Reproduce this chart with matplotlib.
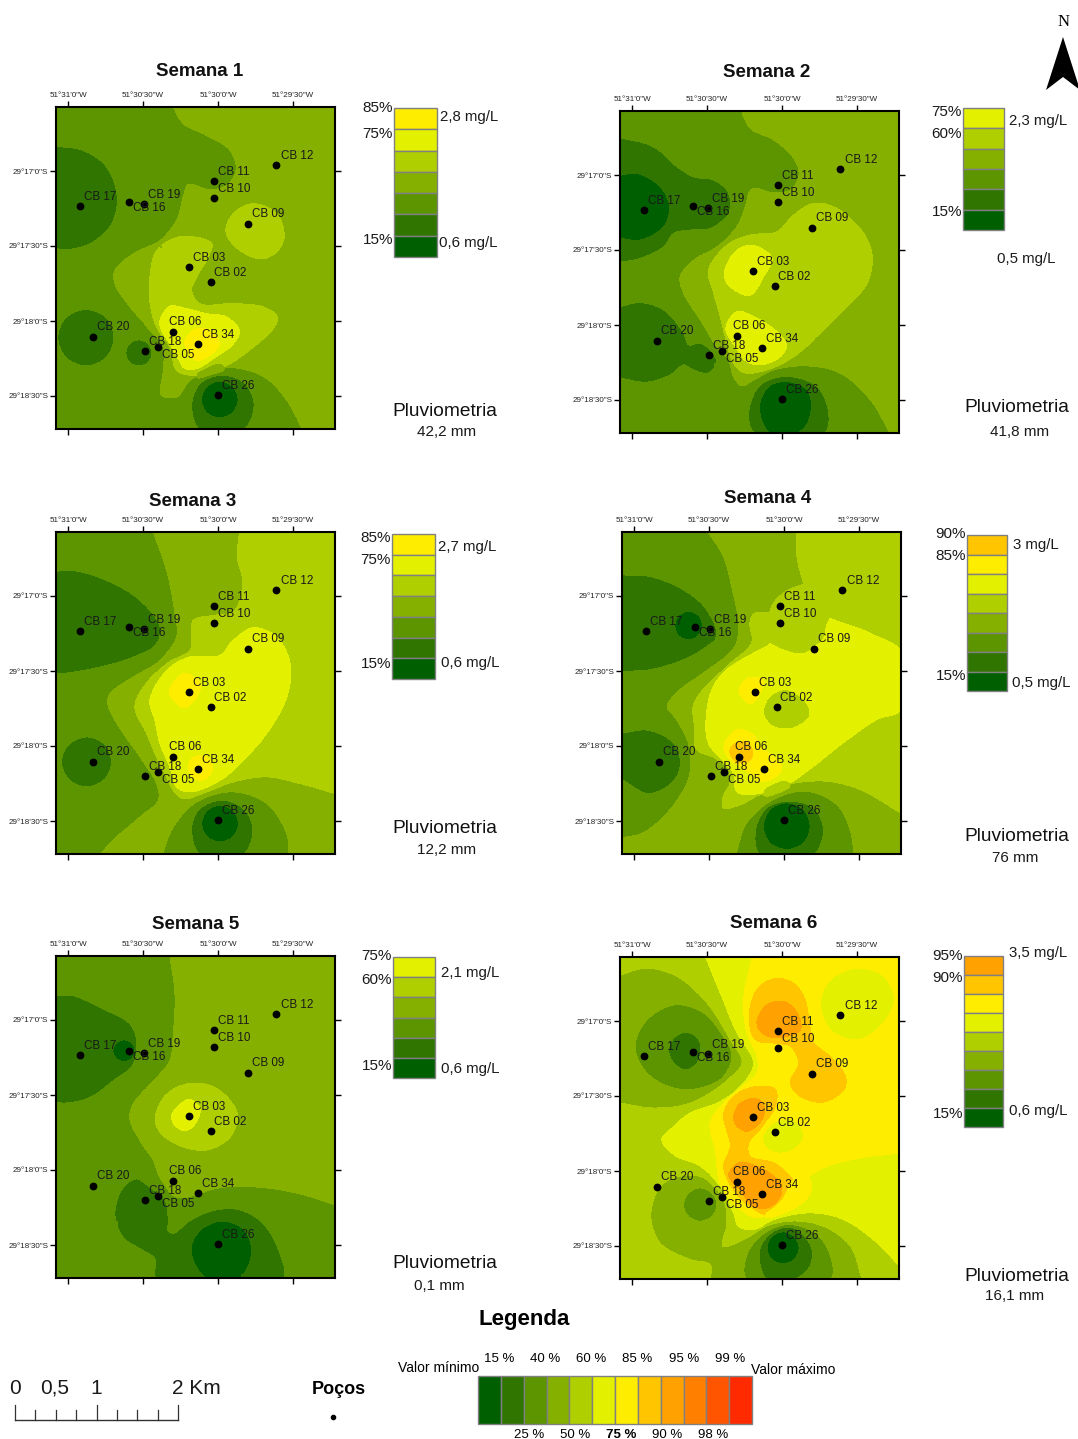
#!/usr/bin/env python3

import matplotlib
matplotlib.use("Agg")
import matplotlib.pyplot as plt
import numpy as np
from matplotlib.patches import Polygon, Rectangle

plt.rcParams["font.family"] = ["Liberation Sans", "DejaVu Sans"]

WIDTH = 1078
HEIGHT = 1439

CLASS_COLORS = [
    "#005f00", "#2f7500", "#5c9500", "#85b000", "#b0cf00", "#e3f000",
    "#ffed00", "#ffc600", "#ffa100", "#ff8000", "#ff5500", "#ff2a00",
]

WELL_NAMES = ["CB 17", "CB 16", "CB 19", "CB 12", "CB 11", "CB 10", "CB 09", "CB 03",
              "CB 02", "CB 06", "CB 34", "CB 18", "CB 05", "CB 20", "CB 26"]
# arc seconds east of 51°31'0" and south of 29°17'0"
WELL_EAST = [4.8, 24.5, 30.4, 83.3, 58.5, 58.5, 72.0, 48.4, 57.1, 42.1, 52.1, 30.9, 35.9, 10.1, 59.9]
WELL_SOUTH = [13.9, 12.4, 13.2, -2.3, 4.1, 10.8, 21.2, 38.5, 44.4, 64.3, 69.3, 72.1, 70.5, 66.3, 89.6]

X_TICKS = [0, 30, 60, 90]
Y_TICKS = [0, 30, 60, 90]
X_TICK_LABELS = ["51°31'0\"W", "51°30'30\"W", "51°30'0\"W", "51°29'30\"W"]
Y_TICK_LABELS = ["29°17'0\"S", "29°17'30\"S", "29°18'0\"S", "29°18'30\"S"]

WEEK_TITLES = ["Semana 1", "Semana 2", "Semana 3", "Semana 4", "Semana 5", "Semana 6"]
RAINFALL = ["42,2 mm", "41,8 mm", "12,2 mm", "76 mm", "0,1 mm", "16,1 mm"]
MAX_LABELS = ["2,8 mg/L", "2,3 mg/L", "2,7 mg/L", "3 mg/L", "2,1 mg/L", "3,5 mg/L"]
MIN_LABELS = ["0,6 mg/L", "0,5 mg/L", "0,6 mg/L", "0,5 mg/L", "0,6 mg/L", "0,6 mg/L"]
TOP_CLASS = [6, 5, 6, 7, 5, 8]
PERCENT_LABELS = [
    ["85%", "75%", "15%"], ["75%", "60%", "15%"], ["85%", "75%", "15%"],
    ["90%", "85%", "15%"], ["75%", "60%", "15%"], ["95%", "90%", "15%"],
]

# class boundaries traced from the maps: (class boundary, [(x, y), ...]),
# x and y as read on a 3x enlargement of each panel
WEEK1_LINES = [
    (3, [(520, 170), (550, 220), (620, 255), (690, 300), (708, 360), (680, 405), (630, 418), (565, 403),
         (550, 440), (530, 510), (480, 570), (400, 610), (345, 660), (345, 700), (390, 770), (450, 840),
         (490, 890), (490, 960), (485, 1035), (530, 1040), (570, 990), (640, 955), (720, 955), (800, 985),
         (860, 1050), (908, 1138)]),
    (2, [(170, 287), (250, 300), (320, 350), (352, 440), (335, 520), (270, 580), (200, 598), (170, 595)]),
    (2, [(258, 778), (318, 802), (342, 862), (318, 922), (258, 947), (198, 922), (174, 862), (198, 802)]),
    (2, [(417, 869), (445, 880), (456, 908), (445, 936), (417, 947), (389, 936), (378, 908), (389, 880)]),
    (2, [(668, 975), (735, 1000), (762, 1065), (730, 1138), (600, 1138), (575, 1065), (600, 1000)]),
    (1, [(659, 993), (698, 1009), (714, 1048), (698, 1087), (659, 1103), (620, 1087), (604, 1048), (620, 1009)]),
    (4, [(570, 558), (635, 580), (625, 620), (590, 680), (575, 720), (600, 760), (700, 760), (790, 770),
         (832, 800), (820, 835), (760, 890), (680, 945), (580, 975), (530, 960), (510, 890), (470, 830),
         (452, 770), (450, 680), (470, 600), (520, 565)]),
    (4, [(678, 545), (700, 490), (760, 460), (830, 490), (852, 560), (830, 605), (785, 625), (720, 600)]),
    (5, [(480, 810), (510, 768), (560, 775), (620, 790), (680, 800), (718, 840), (700, 880), (640, 925),
         (590, 955), (555, 955), (535, 925), (510, 880), (485, 840)]),
    (6, [(555, 870), (590, 835), (640, 845), (657, 880), (630, 915), (590, 930), (565, 905)]),
]
WEEK1_PEAKS = [(200, 440, 1.3), (258, 862, 1.5), (417, 908, 1.5), (659, 1048, 0.4), (605, 885, 6.5), (762, 540, 4.5),
               (950, 600, 3.5), (300, 700, 2.5)]

WEEK2_LINES = [
    (3, [(543, 335), (570, 385), (640, 420), (700, 475), (716, 525), (690, 570), (640, 578), (575, 567),
         (555, 620), (530, 680), (470, 740), (400, 780), (360, 830), (370, 880), (420, 960), (470, 1040),
         (505, 1080), (520, 1130), (545, 1158), (580, 1140), (640, 1110), (740, 1098), (840, 1120),
         (930, 1200), (990, 1302)]),
    (2, [(179, 412), (280, 440), (350, 500), (400, 530), (460, 540), (505, 580), (505, 640), (450, 685),
         (390, 690), (340, 700), (310, 740), (240, 775), (179, 787)]),
    (2, [(179, 920), (240, 908), (310, 930), (370, 1000), (385, 1035), (420, 1030), (460, 1060), (468, 1095),
         (440, 1120), (400, 1110), (370, 1095), (330, 1125), (260, 1147), (179, 1135)]),
    (2, [(565, 1240), (600, 1155), (680, 1130), (770, 1160), (805, 1240), (790, 1302), (585, 1302)]),
    (1, [(179, 525), (230, 520), (300, 560), (328, 620), (310, 680), (240, 720), (179, 715)]),
    (1, [(597, 1222), (625, 1160), (680, 1145), (740, 1170), (753, 1222), (735, 1280), (700, 1302), (630, 1302)]),
    (4, [(445, 810), (500, 735), (570, 705), (650, 695), (700, 645), (760, 610), (830, 625), (910, 700),
         (935, 770), (920, 850), (860, 920), (780, 1000), (700, 1070), (620, 1110), (550, 1118), (520, 1090),
         (500, 1030), (480, 950), (460, 880)]),
    (5, [(492, 815), (530, 750), (580, 737), (635, 775), (610, 830), (570, 885), (530, 875), (500, 850)]),
    (5, [(497, 985), (530, 935), (590, 955), (650, 995), (678, 1035), (660, 1070), (600, 1095), (560, 1085),
         (525, 1040)]),
]
WEEK2_PEAKS = [(230, 620, 0.3), (675, 1222, 0.3), (250, 1020, 1.5), (560, 810, 5.5), (580, 1020, 5.5), (800, 800, 4.5),
               (960, 600, 3.5), (300, 1230, 2.5)]

WEEK3_LINES = [
    (3, [(460, 155), (500, 270), (525, 400), (530, 470), (480, 540), (400, 590), (330, 640), (325, 675),
         (370, 760), (420, 830), (470, 910), (475, 960), (420, 1010), (350, 1070), (300, 1122)]),
    (4, [(718, 155), (712, 230), (728, 310), (700, 395), (640, 405), (580, 420), (575, 470), (570, 510),
         (500, 550), (430, 620), (405, 680), (440, 760), (470, 830), (500, 890), (520, 930), (550, 955),
         (620, 935), (700, 905), (800, 890), (900, 910), (1005, 940)]),
    (5, [(450, 660), (500, 570), (570, 530), (660, 525), (700, 480), (760, 442), (830, 470), (870, 550),
         (860, 650), (800, 760), (730, 840), (660, 900), (570, 935), (530, 920), (510, 860), (480, 790),
         (465, 720)]),
    (6, [(508, 635), (550, 580), (600, 610), (590, 650), (550, 682)]),
    (6, [(565, 860), (576, 835), (600, 825), (626, 835), (638, 860), (626, 888), (600, 900), (576, 888)]),
    (2, [(167, 272), (220, 270), (320, 300), (420, 360), (480, 440), (470, 490), (400, 530), (300, 560),
         (200, 578), (167, 578)]),
    (2, [(260, 770), (313, 792), (335, 845), (313, 898), (260, 920), (207, 898), (185, 845), (207, 792)]),
    (2, [(575, 1040), (600, 985), (665, 960), (730, 985), (758, 1045), (730, 1122), (600, 1122)]),
    (3, [(487, 1122), (520, 1040), (590, 965), (700, 935), (800, 970), (860, 1060), (865, 1122)]),
    (1, [(660, 975), (699, 991), (715, 1030), (699, 1069), (660, 1085), (621, 1069), (605, 1030), (621, 991)]),
]
WEEK3_PEAKS = [(300, 430, 1.5), (260, 845, 1.4), (660, 1030, 0.4), (555, 630, 6.4), (600, 862, 6.4), (700, 700, 5.5),
               (420, 1080, 3.5), (950, 1060, 3.5), (930, 600, 4.5), (620, 250, 3.5)]

WEEK4_LINES = [
    (3, [(445, 157), (490, 230), (515, 320), (535, 430), (525, 500), (430, 580), (360, 630),
         (322, 680), (350, 720), (385, 790), (392, 840), (385, 900), (330, 990), (250, 1060), (186, 1075)]),
    (3, [(527, 1125), (560, 1030), (640, 960), (740, 935), (830, 975), (870, 1050), (882, 1125)]),
    (2, [(587, 1050), (620, 985), (685, 965), (760, 985), (790, 1050), (760, 1125), (600, 1125)]),
    (1, [(680, 970), (730, 990), (750, 1040), (730, 1090), (680, 1110), (630, 1090), (610, 1040), (630, 990)]),
    (4, [(708, 157), (712, 240), (735, 330), (745, 400), (715, 432), (650, 405), (585, 400), (570, 430),
         (575, 490), (500, 560), (420, 640), (400, 680), (405, 750), (410, 810), (465, 835), (505, 870),
         (510, 910), (490, 950), (490, 985), (530, 980), (600, 945), (680, 915), (800, 905), (900, 930),
         (1022, 1000)]),
    (5, [(625, 440), (645, 415), (680, 410), (720, 435), (770, 410), (850, 430), (940, 465), (1022, 515),
         (1022, 690), (950, 720), (850, 790), (760, 860), (670, 920), (565, 945), (530, 935), (520, 880),
         (490, 845), (445, 790), (440, 700), (460, 620), (500, 570), (590, 515), (630, 490)]),
    (5, [(610, 700), (630, 650), (680, 630), (740, 670), (748, 710), (700, 745), (640, 740)]),
    (6, [(537, 635), (565, 595), (610, 600), (600, 640), (570, 672)]),
    (6, [(492, 800), (530, 750), (580, 765), (600, 800), (640, 830), (665, 865), (640, 895), (600, 905),
         (570, 880), (540, 860), (510, 840)]),
    (7, [(510, 815), (520, 795), (545, 785), (568, 795), (578, 820), (570, 840), (550, 850), (525, 842)]),
    (2, [(186, 285), (270, 290), (370, 330), (440, 390), (470, 470), (440, 500), (370, 540), (270, 570),
         (186, 575)]),
    (2, [(186, 760), (265, 752), (340, 790), (362, 850), (340, 905), (265, 942), (186, 900)]),
    (1, [(385, 395), (415, 407), (427, 437), (415, 467), (385, 480), (355, 467), (345, 437), (355, 407)]),
]
WEEK4_PEAKS = [(385, 437, 0.5), (265, 850, 1.4), (680, 1040, 0.3), (545, 818, 7.5), (570, 635, 6.5), (678, 690, 4.5),
               (850, 600, 5.5), (560, 740, 5.5), (380, 1060, 3.5), (950, 1080, 3.5), (900, 300, 4.5), (620, 250, 3.5)]

WEEK5_LINES = [
    (3, [(510, 166), (525, 280), (520, 400), (510, 480), (470, 530), (400, 610), (390, 655), (420, 720),
         (460, 780), (480, 830), (530, 890), (580, 885), (640, 865), (700, 858), (800, 862), (900, 880),
         (1003, 912)]),
    (2, [(345, 940), (370, 860), (410, 835), (450, 860), (495, 900), (505, 960), (505, 990), (520, 998),
         (570, 960), (640, 930), (720, 928), (790, 970), (840, 1060), (848, 1134), (470, 1134), (465, 1075),
         (430, 1050), (370, 1010)]),
    (2, [(167, 283), (220, 285), (300, 320), (390, 370), (410, 420), (400, 490), (340, 540), (270, 590),
         (200, 607), (167, 605)]),
    (1, [(372, 417), (395, 427), (405, 450), (395, 473), (372, 483), (349, 473), (339, 450), (349, 427)]),
    (1, [(573, 1050), (600, 990), (663, 962), (730, 985), (755, 1050), (730, 1120), (700, 1134), (620, 1134)]),
    (4, [(466, 650), (500, 580), (580, 547), (660, 570), (712, 640), (690, 710), (620, 748), (540, 735),
         (480, 695)]),
    (5, [(515, 645), (540, 610), (570, 597), (600, 625), (585, 670), (555, 690), (525, 675)]),
]
WEEK5_PEAKS = [(372, 450, 0.5), (663, 1050, 0.3), (555, 645, 5.5), (850, 600, 3.5), (270, 750, 2.5), (930, 1050, 2.5)]

WEEK6_LINES = [
    (6, [(575, 175), (550, 300), (560, 400), (590, 470), (590, 520), (555, 555), (490, 610), (450, 670),
         (465, 750), (470, 800), (480, 850), (520, 910), (590, 955), (640, 930), (720, 850), (800, 800),
         (900, 775), (1017, 760)]),
    (6, [(780, 310), (810, 240), (890, 205), (970, 230), (1002, 300), (960, 380), (890, 420), (810, 390)]),
    (6, [(605, 715), (640, 670), (700, 660), (730, 710), (700, 750), (650, 760), (620, 745)]),
    (5, [(435, 170), (480, 280), (530, 400), (580, 490), (550, 550), (480, 605), (390, 640), (340, 680), (305, 720),
         (340, 765), (420, 800), (480, 860), (520, 940), (535, 980), (580, 990), (640, 960), (750, 940),
         (850, 960), (950, 1030), (1017, 1100)]),
    (4, [(179, 225), (260, 205), (350, 230), (440, 310), (510, 420), (545, 490), (490, 550), (390, 610),
         (280, 625), (179, 610)]),
    (4, [(905, 1140), (870, 1040), (800, 985), (720, 965), (630, 975), (550, 1020), (488, 1040), (500, 970),
         (490, 900), (430, 835), (360, 830), (300, 860), (272, 950), (300, 1030), (390, 1080), (450, 1095),
         (450, 1140)]),
    (3, [(225, 440), (260, 360), (345, 315), (430, 340), (495, 420), (515, 470), (490, 530), (420, 565),
         (340, 565), (260, 520)]),
    (3, [(370, 915), (385, 880), (420, 865), (455, 880), (470, 915), (455, 950), (420, 965), (385, 950)]),
    (3, [(558, 1070), (600, 1010), (680, 975), (770, 1005), (812, 1075), (810, 1140), (560, 1140)]),
    (2, [(325, 450), (340, 415), (375, 397), (412, 415), (422, 450), (410, 490), (375, 510), (340, 490)]),
    (2, [(598, 1050), (640, 995), (700, 985), (752, 1040), (748, 1100), (700, 1140), (620, 1140)]),
    (1, [(668, 997), (702, 1011), (716, 1045), (702, 1079), (668, 1093), (634, 1079), (620, 1045), (634, 1011)]),
    (7, [(567, 350), (585, 420), (640, 430), (690, 440), (715, 490), (690, 550), (720, 590), (790, 607),
         (850, 570), (855, 530), (810, 470), (760, 430), (750, 390), (730, 290), (690, 245), (640, 237),
         (590, 270)]),
    (7, [(490, 645), (520, 590), (590, 560), (645, 570), (645, 620), (605, 680), (565, 730), (570, 770),
         (640, 790), (690, 830), (715, 870), (680, 920), (620, 945), (570, 920), (520, 870), (490, 800),
         (510, 740)]),
    (8, [(590, 365), (620, 315), (670, 305), (710, 340), (720, 390), (680, 410), (630, 412), (600, 395)]),
    (8, [(520, 650), (540, 610), (590, 598), (612, 625), (605, 660), (560, 695), (530, 680)]),
    (8, [(505, 825), (535, 790), (590, 800), (660, 850), (660, 890), (620, 925), (580, 920), (535, 865)]),
]
WEEK6_PEAKS = [(375, 452, 1.5), (668, 1045, 0.5), (655, 360, 8.5), (565, 650, 8.5), (590, 860, 8.5),
               (890, 315, 5.5), (670, 710, 5.5), (420, 915, 2.5), (900, 600, 6.5), (770, 530, 7.5),
               (230, 1100, 4.5), (920, 870, 5.5), (230, 800, 4.5)]

ALL_LINES = [WEEK1_LINES, WEEK2_LINES, WEEK3_LINES, WEEK4_LINES, WEEK5_LINES, WEEK6_LINES]
ALL_PEAKS = [WEEK1_PEAKS, WEEK2_PEAKS, WEEK3_PEAKS, WEEK4_PEAKS, WEEK5_PEAKS, WEEK6_PEAKS]

SCALE_LABELS = ["0", "0,5", "1", "2 Km"]
LEGEND_TOP = ["15 %", "40 %", "60 %", "85 %", "95 %", "99 %"]
LEGEND_BOTTOM = ["25 %", "50 %", "75 %", "90 %", "98 %"]

# panel layout in pixels
FRAME_XY = [(68, 171), (632, 175), (68, 596), (634, 596), (68, 1020), (632, 1021)]
ENLARGED_TICK_ZERO = [(204, 362), (215, 525), (204, 347), (222, 349), (204, 358), (215, 364)]
TITLE_XY = [(200, 70), (767, 71), (193, 500), (768, 497), (196, 923), (774, 922)]
RAIN_XY = [(447, 431), (1020, 431), (447, 849), (1015, 857), (439, 1285), (1015, 1294)]
PLUVIO_XY = [(445, 410), (1017, 406), (445, 827), (1017, 835), (445, 1262), (1017, 1275)]
LEGEND_BOX = [(394, 108, 437, 257), (963, 108, 1004, 230), (392, 534, 435, 679),
              (967, 535, 1007, 691), (393, 957, 435, 1078), (964, 956, 1003, 1127)]
PERCENT_Y = [(107, 132, 239), (111, 132, 210), (537, 558, 663), (533, 555, 675), (955, 978, 1064), (955, 977, 1112)]
MAX_XY = [(440, 116), (1009, 120), (438, 546), (1013, 543), (441, 972), (1009, 952)]
MIN_XY = [(439, 241), (997, 257), (441, 662), (1012, 682), (441, 1068), (1009, 1110)]

LABEL_OFFSETS = [(12, -29), (10, 15), (11, -30), (13, -30), (11, -30), (11, -30), (11, -31), (11, -31),
                 (11, -30), (-12, -30), (12, -31), (11, -30), (12, 21), (12, -30), (12, -30)]

PIXELS_PER_SECOND = 2.5
ENLARGED_PER_SECOND = 3 * PIXELS_PER_SECOND
WEST = -4.8
EAST = 106.8
NORTH = -25.6
SOUTH = 103.2
GRID_SIZES = [(70, 80), (140, 161), (280, 322), (560, 644)]
SWEEPS = [400, 300, 200, 120]
SAMPLE_STEP = 1.0


def spline_segment(p0, p1, p2, p3, step):
    """
    Centripetal Catmull-Rom points from p1 up to, not including, p2.
    """
    t0 = 0.0
    t1 = t0 + max(np.hypot(*(p1 - p0)), 1.0) ** 0.5
    t2 = t1 + max(np.hypot(*(p2 - p1)), 1.0) ** 0.5
    t3 = t2 + max(np.hypot(*(p3 - p2)), 1.0) ** 0.5
    samples = max(int(np.hypot(*(p2 - p1)) / step), 1)
    out = []
    for t in np.linspace(t1, t2, samples, endpoint=False):
        a1 = ((t1 - t) * p0 + (t - t0) * p1) / (t1 - t0)
        a2 = ((t2 - t) * p1 + (t - t1) * p2) / (t2 - t1)
        a3 = ((t3 - t) * p2 + (t - t2) * p3) / (t3 - t2)
        b1 = ((t2 - t) * a1 + (t - t0) * a2) / (t2 - t0)
        b2 = ((t3 - t) * a2 + (t - t1) * a3) / (t3 - t1)
        out.append(((t2 - t) * b1 + (t - t1) * b2) / (t2 - t1))
    return out


def densify(line, zero):
    """
    Run a spline along one traced boundary; lines that end on the frame stay open.
    """
    left = zero[0] + WEST * ENLARGED_PER_SECOND
    right = zero[0] + EAST * ENLARGED_PER_SECOND
    top = zero[1] + NORTH * ENLARGED_PER_SECOND
    bottom = zero[1] + SOUTH * ENLARGED_PER_SECOND

    def on_edge(point, reach=14):
        return (abs(point[0] - left) < reach or abs(point[0] - right) < reach
                or abs(point[1] - top) < reach or abs(point[1] - bottom) < reach)

    pts = np.array(line, dtype=float)
    is_open = on_edge(pts[0]) and on_edge(pts[-1])
    if is_open:
        chain = np.vstack([2 * pts[0] - pts[1], pts, 2 * pts[-1] - pts[-2]])
    else:
        chain = np.vstack([pts[-1], pts, pts[0], pts[1]])

    out = []
    for i in range(1, len(chain) - 2):
        # a stretch that only runs along the frame is not a boundary
        if on_edge(chain[i]) and on_edge(chain[i + 1]):
            out.append(chain[i])
            continue
        out.extend(spline_segment(chain[i - 1], chain[i], chain[i + 1], chain[i + 2], SAMPLE_STEP))
    out.append(chain[-2])
    return np.array(out)


def panel_constraints(index):
    zero = ENLARGED_TICK_ZERO[index]
    rows = []
    for level, line in ALL_LINES[index]:
        rows.extend((x, y, level) for x, y in densify(line, zero))
    rows.extend(ALL_PEAKS[index])
    table = np.array(rows, dtype=float)
    east = (table[:, 0] - zero[0]) / ENLARGED_PER_SECOND
    south = (table[:, 1] - zero[1]) / ENLARGED_PER_SECOND
    return east, south, table[:, 2]


def solve_field(east, south, values):
    """
    Harmonic surface between the traced boundaries, so that no class can
    appear where the map has none. Solved coarse to fine.
    """
    field = None
    for (columns, rows), sweeps in zip(GRID_SIZES, SWEEPS):
        col = np.clip(np.round((east - WEST) / (EAST - WEST) * (columns - 1)).astype(int), 0, columns - 1)
        row = np.clip(np.round((south - NORTH) / (SOUTH - NORTH) * (rows - 1)).astype(int), 0, rows - 1)
        fixed = np.zeros((rows, columns), dtype=bool)
        fixed[row, col] = True
        target = np.zeros((rows, columns))
        target[row, col] = values

        if field is None:
            field = np.full((rows, columns), values.mean())
        else:
            r_map = np.round(np.linspace(0, field.shape[0] - 1, rows)).astype(int)
            c_map = np.round(np.linspace(0, field.shape[1] - 1, columns)).astype(int)
            field = field[np.ix_(r_map, c_map)]
        field[fixed] = target[fixed]

        grid_r, grid_c = np.indices((rows, columns))
        red = ((grid_r + grid_c) % 2 == 0) & ~fixed
        black = ((grid_r + grid_c) % 2 == 1) & ~fixed
        best_omega = 2 / (1 + np.sin(np.pi / max(rows, columns)))
        for sweep in range(sweeps):
            omega = best_omega if sweep < sweeps - 10 else 1.0
            for mask in (red, black):
                padded = np.pad(field, 1, mode="edge")
                mean = (padded[:-2, 1:-1] + padded[2:, 1:-1] + padded[1:-1, :-2] + padded[1:-1, 2:]) / 4
                field[mask] += omega * (mean[mask] - field[mask])
    x_values = np.linspace(WEST, EAST, GRID_SIZES[-1][0])
    y_values = np.linspace(NORTH, SOUTH, GRID_SIZES[-1][1])
    return x_values, y_values, field


def draw_panel(figure, index):
    tick_x, tick_y = FRAME_XY[index]
    left = tick_x + WEST * PIXELS_PER_SECOND
    top = tick_y + NORTH * PIXELS_PER_SECOND
    width = (EAST - WEST) * PIXELS_PER_SECOND
    height = (SOUTH - NORTH) * PIXELS_PER_SECOND
    axis = figure.add_axes([
        left / WIDTH, 1 - (top + height) / HEIGHT, width / WIDTH, height / HEIGHT,
    ])

    x_values, y_values, field = solve_field(*panel_constraints(index))
    axis.contourf(
        x_values, y_values, np.clip(field, 0.01, 11.99),
        levels=np.arange(0, 13), colors=CLASS_COLORS,
    )

    axis.set_xlim(WEST, EAST)
    axis.set_ylim(SOUTH, NORTH)
    axis.set_xticks(X_TICKS, X_TICK_LABELS)
    axis.set_yticks(Y_TICKS, Y_TICK_LABELS)
    axis.tick_params(
        top=True, bottom=True, left=True, right=True,
        labeltop=True, labelbottom=False, labelleft=True,
        direction="out", length=4.5, width=1.0, pad=1.2, labelsize=5.8, labelcolor="#222222",
    )
    for spine in axis.spines.values():
        spine.set_linewidth(1.5)

    axis.plot(WELL_EAST, WELL_SOUTH, "o", color="black", markersize=4.6, zorder=5, clip_on=False)
    for name, east, south, offset in zip(WELL_NAMES, WELL_EAST, WELL_SOUTH, LABEL_OFFSETS):
        axis.annotate(
            name, (east, south),
            xytext=(offset[0] * 0.24, -offset[1] * 0.24 - 0.5),
            textcoords="offset points", ha="left", va="center",
            fontsize=8.4, color="#1a1a1a", zorder=6,
        )


def put_text(overlay, x, y, label, **style):
    # va="center" sits a little high against the reference text
    overlay.text(x, y + 1.5, label, va="center", **style)


def draw_side_legend(overlay, index):
    x0, y0, x1, y1 = LEGEND_BOX[index]
    cells = TOP_CLASS[index] + 1
    step = (y1 - y0) / cells
    for row in range(cells):
        overlay.add_patch(Rectangle(
            (x0, y0 + row * step), x1 - x0, step,
            facecolor=CLASS_COLORS[TOP_CLASS[index] - row],
            edgecolor="#808080", linewidth=1.0,
        ))
    for label, y in zip(PERCENT_LABELS[index], PERCENT_Y[index]):
        put_text(overlay, x0 - 1, y, label, ha="right", fontsize=11, color="#1a1a1a")
    put_text(overlay, *MAX_XY[index], MAX_LABELS[index], ha="left", fontsize=10.8, color="#1a1a1a")
    put_text(overlay, *MIN_XY[index], MIN_LABELS[index], ha="left", fontsize=10.8, color="#1a1a1a")
    put_text(overlay, *PLUVIO_XY[index], "Pluviometria", ha="center", fontsize=13.8, color="#111111")
    put_text(overlay, *RAIN_XY[index], RAINFALL[index], ha="center", fontsize=11, color="#1a1a1a")
    put_text(overlay, *TITLE_XY[index], WEEK_TITLES[index], ha="center",
             fontsize=13.5, fontweight="bold", color="#111111")


def draw_extras(overlay):
    # north arrow
    overlay.add_patch(Polygon([(1063, 37), (1046, 90), (1063, 77), (1080, 90)],
                              closed=True, facecolor="black", edgecolor="none"))
    put_text(overlay, 1064, 21, "N", ha="center", fontsize=12, family="Liberation Serif")

    # bottom colour key
    put_text(overlay, 524, 1318, "Legenda", ha="center", fontsize=16, fontweight="bold")
    key_left = 478
    key_step = (752 - 478) / len(CLASS_COLORS)
    for slot, color in enumerate(CLASS_COLORS):
        overlay.add_patch(Rectangle(
            (key_left + slot * key_step, 1376), key_step, 48,
            facecolor=color, edgecolor="#808080", linewidth=1.0,
        ))
    for slot, label in enumerate(LEGEND_TOP):
        put_text(overlay, 499 + slot * 46.2, 1358, label, ha="center", fontsize=9.5)
    for slot, label in enumerate(LEGEND_BOTTOM):
        weight = "bold" if label == "75 %" else "normal"
        put_text(overlay, 529 + slot * 46, 1433, label, ha="center", fontsize=9.5, fontweight=weight)
    put_text(overlay, 479, 1367, "Valor mínimo", ha="right", fontsize=10)
    put_text(overlay, 751, 1368, "Valor máximo", ha="left", fontsize=10)

    # scale bar
    for x, label in zip([15, 55, 96, 196], SCALE_LABELS):
        put_text(overlay, x, 1387, label, ha="center", fontsize=15, color="#1a1a1a")
    overlay.plot([15, 178], [1420, 1420], color="#333333", linewidth=1.0)
    for tick in range(9):
        x = 15 + tick * 163 / 8
        top = 1405 if tick % 4 == 0 else 1410
        overlay.plot([x, x], [top, 1420], color="#333333", linewidth=0.9)

    put_text(overlay, 339, 1388, "Poços", ha="center", fontsize=13, fontweight="bold")
    overlay.plot([333], [1417], "o", color="black", markersize=3)


def main():
    figure = plt.figure(figsize=(WIDTH / 100, HEIGHT / 100), dpi=100)
    overlay = figure.add_axes([0, 0, 1, 1])
    overlay.set_xlim(0, WIDTH)
    overlay.set_ylim(HEIGHT, 0)
    overlay.axis("off")

    for index in range(len(WEEK_TITLES)):
        draw_panel(figure, index)
        draw_side_legend(overlay, index)
    draw_extras(overlay)

    figure.savefig("out.png", dpi=100)
    plt.close(figure)


if __name__ == "__main__":
    main()
